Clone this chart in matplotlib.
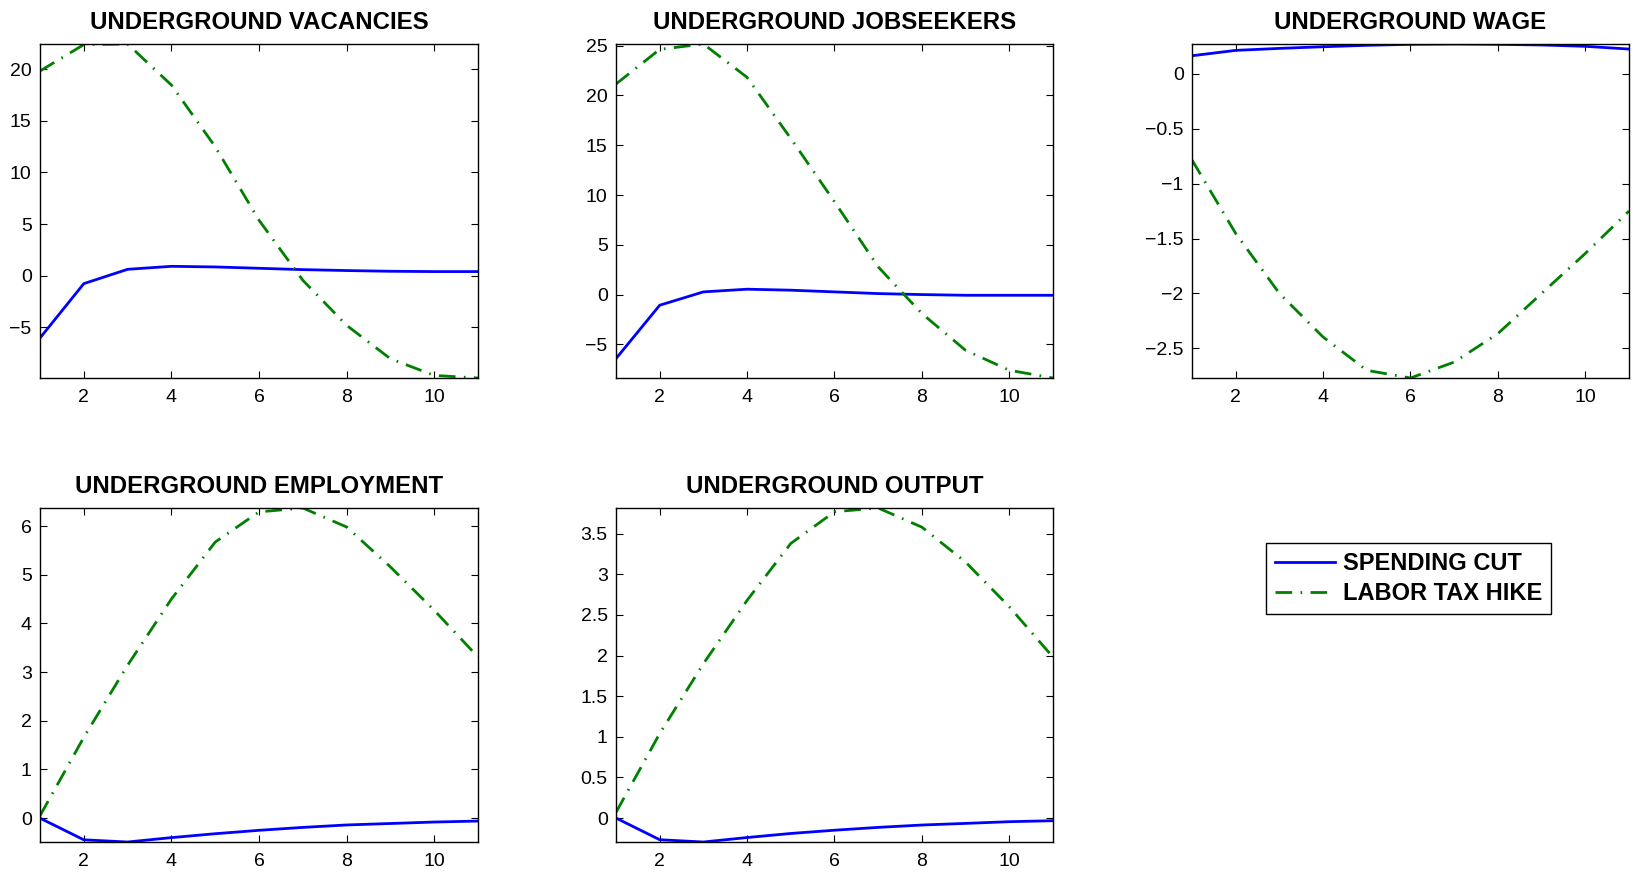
import matplotlib
matplotlib.use("Agg")
import matplotlib.pyplot as plt
from matplotlib.ticker import FuncFormatter, MultipleLocator

plt.rcParams['font.family'] = ['Liberation Sans', 'DejaVu Sans']

periods = list(range(1, 12))

titles = ["UNDERGROUND VACANCIES", "UNDERGROUND JOBSEEKERS", "UNDERGROUND WAGE",
          "UNDERGROUND EMPLOYMENT", "UNDERGROUND OUTPUT"]
series_names = ["SPENDING CUT", "LABOR TAX HIKE"]

vacancies_cut = [-6.05, -0.78, 0.61, 0.90, 0.84, 0.71, 0.58, 0.49, 0.42, 0.39, 0.39]
vacancies_tax = [19.84, 22.40, 22.46, 18.48, 12.5, 5.37, -0.45, -4.82, -8.06, -9.68, -9.93]

jobseekers_cut = [-6.43, -1.07, 0.27, 0.54, 0.44, 0.27, 0.10, 0.0, -0.07, -0.07, -0.07]
jobseekers_tax = [21.15, 24.63, 25.17, 21.82, 15.68, 9.32, 2.78, -1.91, -5.6, -7.6, -8.38]

wage_cut = [0.164, 0.213, 0.231, 0.246, 0.259, 0.268, 0.271, 0.268, 0.262, 0.250, 0.225]
wage_tax = [-0.785, -1.454, -2.0, -2.397, -2.70, -2.77, -2.625, -2.366, -2.0, -1.636, -1.25]

employment_cut = [0.0, -0.445, -0.49, -0.40, -0.32, -0.25, -0.19, -0.14, -0.11, -0.08, -0.06]
employment_tax = [0.05, 1.66, 3.14, 4.50, 5.67, 6.29, 6.37, 5.98, 5.16, 4.27, 3.31]

output_cut = [0.0, -0.267, -0.295, -0.24, -0.19, -0.15, -0.115, -0.086, -0.066, -0.045, -0.033]
output_tax = [0.07, 1.04, 1.90, 2.68, 3.38, 3.77, 3.816, 3.58, 3.15, 2.60, 1.98]

panels = [
    (vacancies_cut, vacancies_tax, 5),
    (jobseekers_cut, jobseekers_tax, 5),
    (wage_cut, wage_tax, 0.5),
    (employment_cut, employment_tax, 1),
    (output_cut, output_tax, 0.5),
]

W, H = 1640, 873
# axes boxes in pixels: left, right, top, bottom
boxes = [
    (40, 478, 44, 378),
    (616, 1053, 44, 378),
    (1192, 1629, 44, 378),
    (40, 478, 508, 842),
    (616, 1053, 508, 842),
]

fig = plt.figure(figsize=(W / 100, H / 100), dpi=100)

def fmt(v, pos):
    s = "{:g}".format(round(v, 6))
    if s == "-0":
        s = "0"
    return s.replace("-", "\u2212")

handles = None
for title, (cut, tax, step), (l, r, t, b) in zip(titles, panels, boxes):
    ax = fig.add_axes([l / W, 1 - b / H, (r - l) / W, (b - t) / H])
    h1, = ax.plot(periods, cut, color='#0000ff', lw=2.0, label=series_names[0])
    h2, = ax.plot(periods, tax, color='#008000', lw=2.0,
                  linestyle=(0, (6, 3, 0.6, 3)), label=series_names[1])
    handles = [h1, h2]
    lo = min(min(cut), min(tax))
    hi = max(max(cut), max(tax))
    ax.set_xlim(1, 11)
    ax.set_ylim(lo, hi)
    ax.xaxis.set_major_locator(MultipleLocator(2))
    ax.yaxis.set_major_locator(MultipleLocator(step))
    ax.yaxis.set_major_formatter(FuncFormatter(fmt))
    ax.tick_params(direction='in', top=True, right=True, length=5, width=0.8,
                   labelsize=14, pad=6)
    ax.tick_params(axis='x', pad=8)
    for sp in ax.spines.values():
        sp.set_linewidth(1.0)
    ax.set_title(title, fontsize=17.3, fontweight='bold', pad=11)

leg = fig.legend(handles, series_names, loc='center',
                 bbox_to_anchor=((1263 + 1554) / 2 / W, 1 - (543 + 614) / 2 / H),
                 fancybox=False, edgecolor='black', framealpha=1,
                 prop={'size': 17, 'weight': 'bold'}, handlelength=2.55,
                 borderpad=0.4, labelspacing=0.3, handletextpad=0.3)
leg.get_frame().set_linewidth(1.0)

fig.savefig("out.png", dpi=100)
